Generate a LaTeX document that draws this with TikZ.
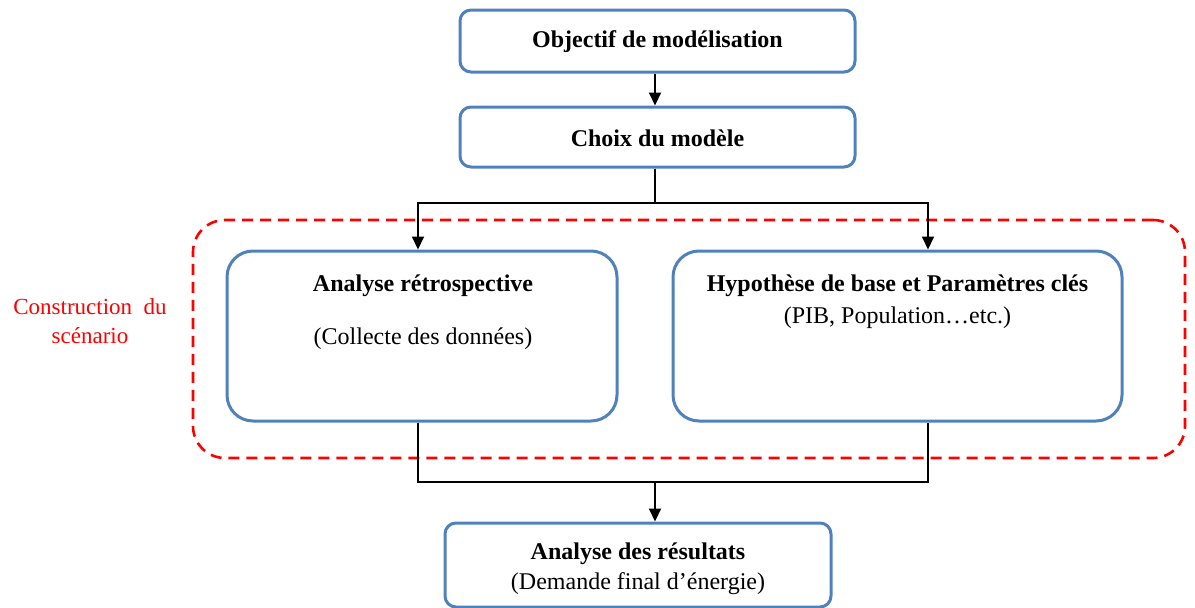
\documentclass[tikz,border=0pt]{standalone}
\usepackage{fontspec}
\setmainfont{Liberation Serif}
\usetikzlibrary{arrows.meta}
\definecolor{boxblue}{HTML}{4F81BD}
\definecolor{framered}{HTML}{FF0000}
\tikzset{
  stagebox/.style={draw=boxblue, line width=3pt, rounded corners=11pt, fill=white, inner sep=0pt},
  bigbox/.style={draw=boxblue, line width=3pt, rounded corners=26pt, fill=white, inner sep=0pt},
  framebox/.style={draw=framered, line width=2.6pt, dash pattern=on 11pt off 7pt, rounded corners=32pt, inner sep=0pt},
  conn/.style={draw=black, line width=2pt},
  arr/.style={conn, -{Triangle[length=13pt,width=12pt]}},
  titletext/.style={font=\fontsize{24}{28}\selectfont\bfseries, inner sep=0pt},
  subtext/.style={font=\fontsize{24}{28}\selectfont, inner sep=0pt},
  redtext/.style={font=\fontsize{23}{29}\selectfont, text=framered, align=center, inner sep=0pt}
}
\begin{document}
\begin{tikzpicture}[x=1pt,y=-1pt]
\useasboundingbox (0,0) rectangle (1195,608);
% dashed scenario frame
\node[framebox, minimum width=992pt, minimum height=238pt] (scen) at (689,339) {};
\node[redtext] (scenlbl) at (90,321) {Construction\ \ du\\scénario};
% boxes
\node[stagebox, minimum width=395pt, minimum height=62pt] (obj) at (657.5,41) {};
\node[titletext] (objt) at (657.5,42) {Objectif de modélisation};
\node[stagebox, minimum width=395pt, minimum height=60pt] (choix) at (657.5,137) {};
\node[titletext] (choixt) at (657.5,138) {Choix du modèle};
\node[bigbox, minimum width=390pt, minimum height=170pt] (retro) at (422,336) {};
\node[titletext] (retrot) at (423,286) {Analyse rétrospective};
\node[subtext] (retros) at (423,339) {(Collecte des données)};
\node[bigbox, minimum width=449pt, minimum height=170pt] (hyp) at (897.5,336) {};
\node[titletext] (hypt) at (897.5,286) {Hypothèse de base et Paramètres clés};
\node[subtext] (hyps) at (897.5,318) {(PIB, Population…etc.)};
\node[stagebox, minimum width=386pt, minimum height=84pt] (res) at (638,565) {};
\node[titletext] (rest) at (638,554) {Analyse des résultats};
\node[subtext] (ress) at (638,584) {(Demande final d’énergie)};
% connectors
\draw[arr] ([xshift=-2.5pt]obj.south) -- ([xshift=-2.5pt]choix.north);
\coordinate (split) at (655,203);
\draw[conn] ([xshift=-2.5pt]choix.south) -- (split);
\draw[arr] (split) -| ([xshift=-4pt]retro.north);
\draw[arr] (split) -| ([xshift=30.5pt]hyp.north);
\coordinate (merge) at (655,482);
\draw[conn] ([xshift=-4pt]retro.south) |- (merge) -| ([xshift=30.5pt]hyp.south);
\draw[arr] (merge) -- (merge |- res.north);
\end{tikzpicture}
\end{document}
